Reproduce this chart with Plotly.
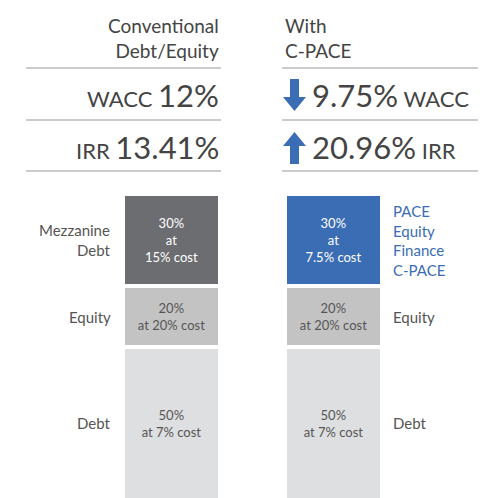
import plotly.graph_objects as go

W, H = 487, 498
columns = ["Conventional", "C-PACE"]
col_x = [163.5, 325]
segments = ["Debt", "Equity", "Mezzanine"]
shares = {"Debt": [50, 50], "Equity": [20, 20], "Mezzanine": [30, 30]}
seg_text = {
    "Debt": ["50%<br>at 7% cost", "50%<br>at 7% cost"],
    "Equity": ["20%<br>at 20% cost", "20%<br>at 20% cost"],
    "Mezzanine": ["30%<br>at<br>15% cost", "30%<br>at<br>7.5% cost"],
}
seg_colors = {
    "Debt": ["#dedfe0", "#dedfe0"],
    "Equity": ["#c3c3c4", "#c3c3c4"],
    "Mezzanine": ["#6c6d70", "#3b6db4"],
}
seg_textcol = {
    "Debt": ["#555", "#555"],
    "Equity": ["#555", "#555"],
    "Mezzanine": ["white", "white"],
}

FONT = "Lato, Open Sans, sans-serif"
fig = go.Figure()
for s in segments:
    fig.add_trace(go.Bar(
        x=col_x, y=shares[s], width=97,
        marker=dict(color=seg_colors[s], line=dict(color="white", width=4)),
        text=seg_text[s], textposition="inside", insidetextanchor="middle",
        textfont=dict(color=seg_textcol[s], size=13, family=FONT),
        hoverinfo="skip", showlegend=False))

bot, top = 492, 186
fig.update_layout(
    width=W, height=H, barmode="stack", bargap=0,
    margin=dict(l=0, r=0, t=0, b=0), plot_bgcolor="white", paper_bgcolor="white",
    xaxis=dict(range=[0, W], visible=False, fixedrange=True),
    yaxis=dict(range=[0, 100], visible=False, domain=[1 - bot / H, 1 - top / H]),
)

def py(y): return 1 - y / H
def px(x): return x / W

ann = []
def A(x, y, t, size, col="#444", xa="left", ya="middle"):
    ann.append(dict(x=px(x), y=py(y), xref="paper", yref="paper", text=t, showarrow=False,
                    xanchor=xa, yanchor=ya, align=xa, font=dict(size=size, color=col, family=FONT)))

A(213, 30, "Conventional<br>Debt/Equity", 19, xa="right")
A(275, 30, "With<br>C-PACE", 19)
A(213, 87, "WACC <span style='font-size:31px'>12%</span>", 22, xa="right")
A(213, 139, "IRR <span style='font-size:31px'>13.41%</span>", 22, xa="right")
A(302, 87, "<span style='font-size:31px'>9.75%</span> WACC", 22)
A(302, 139, "<span style='font-size:31px'>20.96%</span> IRR", 22)

A(105, 232, "Mezzanine<br>Debt", 15, col="#555", xa="right")
A(105, 309, "Equity", 15, col="#555", xa="right")
A(105, 415, "Debt", 15, col="#555", xa="right")
A(383, 232, "PACE<br>Equity<br>Finance<br>C-PACE", 15, col="#3b6db4")
A(383, 309, "Equity", 15, col="#555")
A(383, 415, "Debt", 15, col="#555")

shapes = []
for y in [60, 112, 163]:
    shapes.append(dict(type="line", xref="paper", yref="paper", x0=px(18), x1=px(213), y0=py(y), y1=py(y),
                       line=dict(color="#999", width=1)))
    shapes.append(dict(type="line", xref="paper", yref="paper", x0=px(274), x1=px(470), y0=py(y), y1=py(y),
                       line=dict(color="#999", width=1)))

def arrow(path_pts):
    p = "M " + " L ".join(f"{px(x)} {py(y)}" for x, y in path_pts) + " Z"
    shapes.append(dict(type="path", xref="paper", yref="paper", path=p,
                       fillcolor="#3b6db4", line=dict(width=0)))

arrow([(282, 71), (291, 71), (291, 89), (298, 89), (286.5, 103), (275, 89), (282, 89)])
arrow([(282, 156), (291, 156), (291, 138), (298, 138), (286.5, 124), (275, 138), (282, 138)])

fig.update_layout(annotations=ann, shapes=shapes)
fig.write_html("out.html")
